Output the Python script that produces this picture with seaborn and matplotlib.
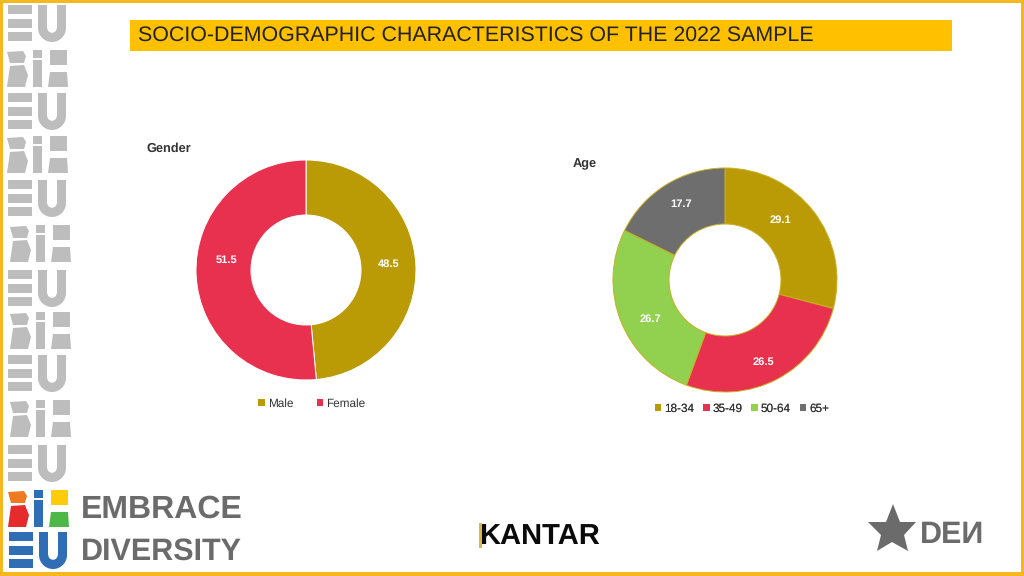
"""Socio-demographic donuts of the 2022 sample, on the slide layout."""

import matplotlib.pyplot as plt
from matplotlib.patches import Patch, Polygon, Rectangle, Wedge
import seaborn as sns

TITLE = "SOCIO-DEMOGRAPHIC CHARACTERISTICS OF THE 2022 SAMPLE"
GENDER_LABELS = ["Male", "Female"]
GENDER_VALUES = [48.5, 51.5]
AGE_LABELS = ["18-34", "35-49", "50-64", "65+"]
AGE_VALUES = [29.1, 26.5, 26.7, 17.7]

SLICE_COLORS = ["#BA9B05", "#E8304F", "#92D050", "#6E6E6E"]
GOLD = "#F6B81E"
LOGO_GREY = "#BDBDBD"

FW, FH = 1024, 576

sns.set_theme(style="white")
plt.rcParams["font.family"] = ["Liberation Sans", "DejaVu Sans"]
plt.rcParams["text.hinting"] = "none"

fig = plt.figure(figsize=(FW / 100, FH / 100), dpi=100, facecolor="white")

# overlay u pikselima, y ide odozgo
bg = fig.add_axes([0, 0, 1, 1])
bg.set_xlim(0, FW)
bg.set_ylim(FH, 0)
bg.axis("off")


def box(x0, y0, x1, y1, color, zorder=2):
    bg.add_patch(Rectangle((x0, y0), x1 - x0, y1 - y0, fc=color, ec="none", zorder=zorder))


def draw_u(x, y, w, h, color):
    t = w * 0.33
    r = w / 2
    bg.add_patch(Rectangle((x, y), t, h - r, fc=color, ec="none"))
    bg.add_patch(Rectangle((x + w - t, y), t, h - r, fc=color, ec="none"))
    bg.add_patch(Wedge((x + r, y + h - r), r, 0, 180, width=t, fc=color, ec="none"))


def draw_eu(x, y, color):
    for dy in (0, 13.5, 27):
        box(x, y + dy, x + 24, y + dy + 9, color)
    draw_u(x + 30, y, 28, 37, color)


def draw_bih(x, y, colors):
    b_top, b_low, i_col, h_top, h_low = colors
    bg.add_patch(Polygon([(x - 1, y + 2), (x + 15, y + 1), (x + 18, y + 6), (x + 16, y + 13), (x + 2, y + 13)],
                         fc=b_top, ec="none"))
    bg.add_patch(Polygon([(x + 2, y + 16), (x + 16, y + 15), (x + 20, y + 25), (x + 17, y + 37), (x - 1, y + 37)],
                         fc=b_low, ec="none"))
    box(x + 25, y, x + 34, y + 8, i_col)
    box(x + 25, y + 10, x + 34, y + 37, i_col)
    box(x + 42, y, x + 59, y + 15, h_top)
    bg.add_patch(Polygon([(x + 42, y + 22), (x + 59, y + 22), (x + 60, y + 37), (x + 40, y + 37)],
                         fc=h_low, ec="none"))


def donut(cx, cy, r, values, edge, nudges):
    ax = fig.add_axes([(cx - r) / FW, 1 - (cy + r) / FH, 2 * r / FW, 2 * r / FH])
    wedges, _, autotexts = ax.pie(values, colors=SLICE_COLORS[:len(values)], startangle=90,
                                  counterclock=False, radius=1, autopct="%.1f", pctdistance=0.75,
                                  wedgeprops={"width": 0.5, "edgecolor": edge, "linewidth": 0.7},
                                  textprops={"color": "white", "fontsize": 8, "fontweight": "bold"})
    ax.set_xlim(-1, 1)
    ax.set_ylim(-1, 1)
    # etikete nisu bas na sredini isjecka
    for txt, (dx, dy) in zip(autotexts, nudges):
        px, py = txt.get_position()
        txt.set_position((px + dx / r, py - dy / r))
    return wedges


def legend(labels, x, y, gap):
    handles = [Patch(fc=c, ec="none") for c in SLICE_COLORS[:len(labels)]]
    leg = bg.legend(handles, labels, loc="center", bbox_to_anchor=(x, y), bbox_transform=bg.transData,
                    ncol=len(labels), frameon=False, fontsize=8.5, handlelength=0.55, handleheight=0.55,
                    handletextpad=0.25, columnspacing=gap, borderpad=0, labelcolor="#333333")
    bg.add_artist(leg)


# okvir slajda
for rect in [(0, 0, FW, 3), (0, FH - 4, FW, FH), (0, 0, 3, FH), (FW - 3, 0, FW, FH)]:
    box(*rect, GOLD, zorder=5)

box(130, 20, 952, 51, "#FFC000")
bg.text(138, 35, TITLE, fontsize=15.36, color="#222222", va="center", ha="left")

donut(306, 270, 110, GENDER_VALUES, "white", [(0, -2), (3, -14)])
donut(725, 280, 112, AGE_VALUES, "#C9B020", [(-11, -9), (0, 8), (3, 8), (0, -4)])

bg.text(146, 149, "Gender", fontsize=9.2, fontweight="bold", color="#333333", va="center")
bg.text(573, 164, "Age", fontsize=9.2, fontweight="bold", color="#333333", va="center")
legend(GENDER_LABELS, 312, 404, 2.0)
legend(AGE_LABELS, 742, 409, 0.75)

# logotip sa strane
for y in (5, 93, 180, 270, 355, 445):
    draw_eu(8, y, LOGO_GREY)
for y, x in ((50, 8), (136, 8), (225, 11), (312, 11), (400, 11)):
    draw_bih(x, y, [LOGO_GREY] * 5)
draw_bih(9, 490, ["#EE7B22", "#E52B2B", "#2F6DB5", "#FFCC0A", "#4DB848"])
draw_eu(9, 532, "#2F6DB5")

bg.text(81, 509, "EMBRACE", fontsize=23, fontweight="bold", color="#6B6B6B", va="center")
bg.text(81, 552, "DIVERSITY", fontsize=22, fontweight="bold", color="#6B6B6B", va="center")

# Kantar
bg.text(479, 536, "KANTAR", fontsize=21, fontweight="bold", color="#0A0A0A", va="center")
box(479, 523, 482, 548, "#D9B84A", zorder=4)

# iDEN
bg.add_patch(Polygon([(893, 504), (900, 522), (916, 522), (904, 535), (908, 551), (892, 542),
                      (877, 551), (881, 535), (868, 522), (886, 522)], fc="#6B6B6B", ec="none"))
bg.text(920, 535, "DEИ", fontsize=22, fontweight="bold", color="#6B6B6B", va="center")

fig.savefig("out.png", dpi=100)
